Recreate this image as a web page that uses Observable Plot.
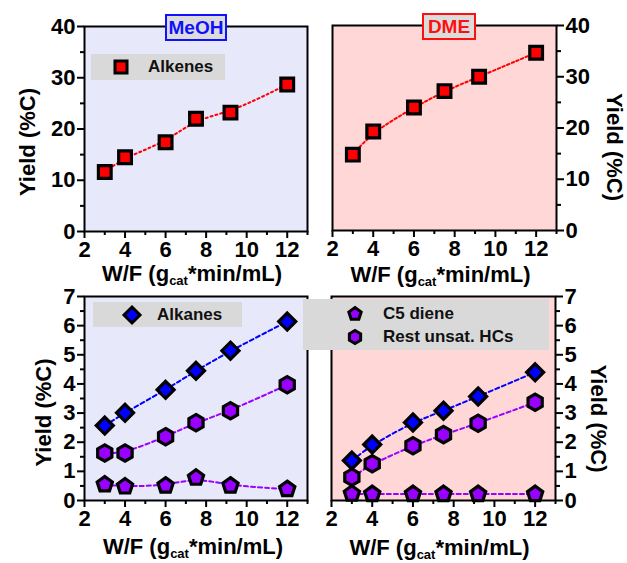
<!DOCTYPE html>
<html>
<head>
<meta charset="utf-8">
<script src="https://cdn.jsdelivr.net/npm/d3@7"></script>
<script src="https://cdn.jsdelivr.net/npm/@observablehq/plot@0.6"></script>
<style>
  body { margin: 0; background: #fff; }
  #fig { position: relative; width: 627px; height: 563px; overflow: hidden; font-family: "Liberation Sans", Arial, sans-serif; }
  #fig > svg { position: absolute; overflow: visible; }
  .tag { position: absolute; box-sizing: border-box; border: 2px solid; background: #dcdcdc; font-weight: bold; font-size: 19px; display: flex; align-items: center; justify-content: center; }
  .leg { position: absolute; background: #d9d9d9; }
  .leg .row { position: absolute; display: flex; align-items: center; font-size: 17px; font-weight: bold; color: #111; white-space: nowrap; }
  .leg svg { position: absolute; overflow: visible; }
</style>
</head>
<body>
<div id="fig"></div>
<script>
// ---------------- data ----------------
const wf = [3, 4, 6, 7.5, 9.2, 12];                 // W/F (g_cat*min/mL)
const meohAlkenes = [11.6, 14.5, 17.4, 22.0, 23.2, 28.7];
const dmeAlkenes  = [14.8, 19.3, 24.0, 27.2, 30.0, 34.7];
const meohAlkanes = [2.57, 3.01, 3.80, 4.45, 5.14, 6.14];
const meohRest    = [1.63, 1.63, 2.19, 2.67, 3.08, 3.97];
const meohC5      = [0.55, 0.48, 0.51, 0.78, 0.51, 0.39];
const dmeAlkanes  = [1.37, 1.92, 2.68, 3.08, 3.57, 4.40];
const dmeRest     = [0.80, 1.26, 1.88, 2.26, 2.65, 3.37];
const dmeC5       = [0.23, 0.22, 0.22, 0.22, 0.22, 0.22];

const xDomain = [2, 13];
const xTicks = [2, 4, 6, 8, 10, 12];
const xMinor = [3, 5, 7, 9, 11, 13];
const yDomainTop = [0, 40];
const yTicksTop = [0, 10, 20, 30, 40];
const yMinorTop = [5, 15, 25, 35];
const yDomainBottom = [0, 7];
const yTicksBottom = [0, 1, 2, 3, 4, 5, 6, 7];
const yMinorBottom = [0.5, 1.5, 2.5, 3.5, 4.5, 5.5, 6.5];

const panelTitles = ["MeOH", "DME"];
const seriesNames = ["Alkenes", "Alkanes", "C5 diene", "Rest unsat. HCs"];
const xLabelParts = ["W/F (g", "cat", "*min/mL)"];
const yLabel = "Yield (%C)";

// ---------------- styles ----------------
const FONT = "'Liberation Sans', Arial, sans-serif";
const RED = "#ff0000", BLUE = "#0000ff", PURPLE = "#9a00ff";
const BG_MEOH = "#e8e8fb", BG_DME = "#ffd7d7";

const polygon = (n, rot) => ({
  draw(ctx, size) {
    const R = Math.sqrt(size / Math.PI);
    for (let i = 0; i < n; i++) {
      const a = rot + 2 * Math.PI * i / n;
      const px = R * Math.cos(a), py = R * Math.sin(a);
      i ? ctx.lineTo(px, py) : ctx.moveTo(px, py);
    }
    ctx.closePath();
  }
});
const SQUARE = polygon(4, Math.PI / 4);
const DIAMOND = polygon(4, -Math.PI / 2);
const PENTAGON = polygon(5, -Math.PI / 2);
const HEXAGON = polygon(6, -Math.PI / 2);

const rows = vals => wf.map((x, i) => ({x, y: vals[i]}));
const xLabelFull = xLabelParts.join("");

function makePanel(cfg) {
  const marks = [Plot.frame({fill: cfg.bg, stroke: "none"})];
  for (const s of cfg.series) {
    marks.push(Plot.line(rows(s.values), {x: "x", y: "y", curve: "basis", stroke: s.color, strokeWidth: 2, strokeDasharray: s.dash}));
  }
  for (const s of cfg.series) {
    marks.push(Plot.dot(rows(s.values), {x: "x", y: "y", symbol: s.symbol, r: s.r, fill: s.color, stroke: "black", strokeWidth: 3.2, strokeLinejoin: "miter"}));
  }
  marks.push(
    Plot.frame({stroke: "black", strokeWidth: 2}),
    Plot.axisX({ticks: xTicks, tickFormat: "d", tickSize: 7, tickPadding: 3, strokeWidth: 2, label: null, fill: "black"}),
    Plot.axisX({ticks: xMinor, tickSize: 4, strokeWidth: 2, label: null, fill: "none"}),
    Plot.axisY({anchor: cfg.yAnchor, ticks: cfg.yTicks, tickFormat: "d", tickSize: 7, tickPadding: 2, strokeWidth: 2, label: null, fill: "black"}),
    Plot.axisY({anchor: cfg.yAnchor, ticks: cfg.yMinor, tickSize: 4, strokeWidth: 2, label: null, fill: "none"}),
    Plot.text([xLabelFull], {text: d => d, frameAnchor: "bottom", lineAnchor: "bottom", dx: cfg.xLabelDx, dy: cfg.xLabelDy, fontSize: 22, fontWeight: "bold", fill: "black"}),
    Plot.text([yLabel], {text: d => d, frameAnchor: cfg.yAnchor, rotate: cfg.yAnchor === "left" ? -90 : 90, textAnchor: "middle", lineAnchor: "middle", dx: cfg.yLabelDx, dy: cfg.yLabelDy, fontSize: 22, fontWeight: "bold", fill: "black"})
  );
  const svg = Plot.plot({
    width: cfg.width, height: cfg.height,
    marginLeft: cfg.ml, marginRight: cfg.mr, marginTop: cfg.mt, marginBottom: cfg.mb,
    x: {domain: xDomain, axis: null},
    y: {domain: cfg.yDomain, axis: null},
    style: {fontFamily: FONT, fontSize: "22px", fontWeight: "bold", color: "black", background: "transparent", overflow: "visible"},
    marks
  });
  svg.style.left = cfg.left + "px";
  svg.style.top = cfg.top + "px";
  // subscript in x-axis title
  d3.select(svg).selectAll("text").filter(function () { return this.textContent === xLabelFull; }).each(function () {
    const t = d3.select(this);
    t.text(null);
    t.append("tspan").text(xLabelParts[0]);
    t.append("tspan").attr("dy", 4).attr("font-size", 13).text(xLabelParts[1]);
    t.append("tspan").attr("dy", -4).text(xLabelParts[2]);
  });
  document.getElementById("fig").appendChild(svg);
}

makePanel({left: 0, top: 0, width: 313, height: 285, ml: 84, mr: 6, mt: 26, mb: 54,
  bg: BG_MEOH, yDomain: yDomainTop, yTicks: yTicksTop, yMinor: yMinorTop, yAnchor: "left",
  xLabelDx: -4, xLabelDy: 49, yLabelDx: -57, yLabelDy: 13,
  series: [{values: meohAlkenes, color: RED, dash: "2,3", symbol: SQUARE, r: 9}]});

makePanel({left: 313, top: 0, width: 314, height: 285, ml: 19, mr: 71, mt: 25, mb: 55,
  bg: BG_DME, yDomain: yDomainTop, yTicks: yTicksTop, yMinor: yMinorTop, yAnchor: "right",
  xLabelDx: -4, xLabelDy: 51, yLabelDx: 58, yLabelDy: 19,
  series: [{values: dmeAlkenes, color: RED, dash: "2.5,2.5", symbol: SQUARE, r: 9}]});

makePanel({left: 0, top: 285, width: 313, height: 278, ml: 84, mr: 6, mt: 11, mb: 63,
  bg: BG_MEOH, yDomain: yDomainBottom, yTicks: yTicksBottom, yMinor: yMinorBottom, yAnchor: "left",
  xLabelDx: -3, xLabelDy: 53, yLabelDx: -41, yLabelDy: 14,
  series: [
    {values: meohC5, color: PURPLE, dash: "4,3", symbol: PENTAGON, r: 8},
    {values: meohRest, color: PURPLE, dash: "4,3", symbol: HEXAGON, r: 8.2},
    {values: meohAlkanes, color: BLUE, dash: "4,3", symbol: DIAMOND, r: 8.5}
  ]});

makePanel({left: 313, top: 285, width: 314, height: 278, ml: 18, mr: 72, mt: 11, mb: 63,
  bg: BG_DME, yDomain: yDomainBottom, yTicks: yTicksBottom, yMinor: yMinorBottom, yAnchor: "right",
  xLabelDx: -4, xLabelDy: 54, yLabelDx: 43, yLabelDy: 20,
  series: [
    {values: dmeC5, color: PURPLE, dash: "4,3", symbol: PENTAGON, r: 8},
    {values: dmeRest, color: PURPLE, dash: "4,3", symbol: HEXAGON, r: 8.2},
    {values: dmeAlkanes, color: BLUE, dash: "4,3", symbol: DIAMOND, r: 8.5}
  ]});

// ---------------- overlays: panel tags and legends ----------------
const fig = document.getElementById("fig");
function tag(text, color, left, top, w, h) {
  const d = document.createElement("div");
  d.className = "tag";
  Object.assign(d.style, {left: left + "px", top: top + "px", width: w + "px", height: h + "px", borderColor: color, color});
  d.textContent = text;
  fig.appendChild(d);
}
tag(panelTitles[0], "#1010ff", 165, 14, 62, 27);
tag(panelTitles[1], "#ff1010", 422, 13, 54, 27);

function symPath(sym, R) {
  const p = d3.path();
  sym.draw(p, R * R * Math.PI);
  return p.toString();
}
function legend(left, top, w, h, items) {
  const box = document.createElement("div");
  box.className = "leg";
  Object.assign(box.style, {left: left + "px", top: top + "px", width: w + "px", height: h + "px"});
  for (const it of items) {
    const svg = d3.create("svg").attr("width", 1).attr("height", 1)
      .style("left", (it.sx - left) + "px").style("top", (it.sy - top) + "px");
    svg.append("path").attr("d", symPath(it.symbol, it.r)).attr("fill", it.color)
      .attr("stroke", "black").attr("stroke-width", 3).attr("stroke-linejoin", "miter");
    box.appendChild(svg.node());
    const row = document.createElement("div");
    row.className = "row";
    Object.assign(row.style, {left: (it.tx - left) + "px", top: (it.sy - top - 10) + "px", height: "20px"});
    row.textContent = it.label;
    box.appendChild(row);
  }
  fig.appendChild(box);
}
legend(91, 54, 134, 26, [{sx: 121, sy: 67, tx: 148, symbol: SQUARE, r: 8.5, color: RED, label: seriesNames[0]}]);
legend(93, 302, 149, 25, [{sx: 132, sy: 315, tx: 157, symbol: DIAMOND, r: 8, color: BLUE, label: seriesNames[1]}]);
legend(303, 299, 246, 51, [
  {sx: 355, sy: 314, tx: 383, symbol: PENTAGON, r: 6.5, color: PURPLE, label: seriesNames[2]},
  {sx: 355, sy: 337, tx: 383, symbol: HEXAGON, r: 6.5, color: PURPLE, label: seriesNames[3]}
]);
</script>
</body>
</html>
